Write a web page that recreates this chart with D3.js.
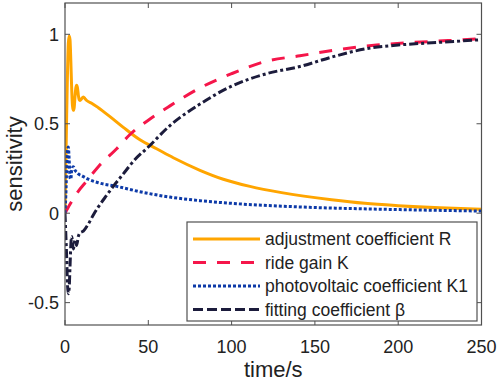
<!DOCTYPE html>
<html><head><meta charset="utf-8">
<script src="https://cdn.jsdelivr.net/npm/d3@7/dist/d3.min.js"></script>
<style>html,body{margin:0;padding:0;background:#fff}svg{display:block}</style>
</head><body><svg id="c" width="498" height="381"></svg>
<script>
const xTicks = [0, 50, 100, 150, 200, 250];
const yTicks = [-0.5, 0, 0.5, 1];
const yTickLabels = ["-0.5", "0", "0.5", "1"];
const seriesNames = ["adjustment coefficient R", "ride gain K", "photovoltaic coefficient K1", "fitting coefficient \u03b2"];

const tR = [0,1,2,2.5,3,3.5,4,4.5,5,5.5,6,6.5,7,7.5,8,8.5,9,10,11,12,13,16,20,27,35,45,55,65,81,95,111,130,160,180,200,225,250];
const vR = [0,0.55,0.95,0.99,0.97,0.85,0.7,0.6,0.575,0.59,0.65,0.70,0.715,0.70,0.66,0.635,0.63,0.64,0.65,0.64,0.63,0.615,0.59,0.54,0.48,0.41,0.36,0.31,0.24,0.19,0.15,0.115,0.075,0.055,0.042,0.03,0.022];

const tK = [0,3,7,13,20,31,39,50,63,81,100,121,141,161,187,210,230,250];
const vK = [0,0.05,0.11,0.18,0.26,0.36,0.44,0.52,0.6,0.7,0.78,0.85,0.88,0.91,0.94,0.955,0.965,0.975];

const tK1 = [0,0.5,1,1.5,2,2.5,3,3.5,4,5,6,7,8,10,14,20,31,45,63,81,100,141,201,250];
const vK1 = [0,0.1,0.25,0.35,0.37,0.3,0.2,0.19,0.24,0.26,0.24,0.23,0.22,0.21,0.19,0.17,0.15,0.12,0.09,0.07,0.055,0.035,0.02,0.012];

const tB = [0,1,1.5,2,2.5,3,3.5,4,5,6,7,8,9,11,14,17,20,25,29,35,42,50,63,81,100,121,141,161,181,200,225,250];
const vB = [0,-0.25,-0.4,-0.45,-0.42,-0.3,-0.18,-0.13,-0.2,-0.15,-0.18,-0.13,-0.11,-0.1,-0.06,-0.01,0.035,0.1,0.15,0.22,0.3,0.37,0.49,0.61,0.71,0.78,0.82,0.875,0.92,0.94,0.955,0.97];

const colors = ["#FFA500", "#F5164A", "#0D3AA8", "#1C1C3C"];
const dashes = [null, "13,11", "3,2", "9,3,3,3"];

const svg = d3.select("#c");
const L = 65, R = 481.5, T = 3, B = 325;
const x = d3.scaleLinear().domain([0, 250]).range([L, R]);
const y = d3.scaleLinear().domain([-0.625, 1.175]).range([B, T]);

const series = [
  {t: tR, v: vR}, {t: tK, v: vK}, {t: tK1, v: vK1}, {t: tB, v: vB}
];

const line = d3.line().x(d => x(d[0])).y(d => y(d[1])).curve(d3.curveMonotoneX);
const clip = svg.append("clipPath").attr("id","cp").append("rect").attr("x",L).attr("y",T).attr("width",R-L).attr("height",B-T);
const g = svg.append("g").attr("clip-path","url(#cp)");
series.forEach((s, i) => {
  const pts = s.t.map((t, j) => [t, s.v[j]]);
  g.append("path").attr("d", line(pts)).attr("fill","none")
    .attr("stroke", colors[i]).attr("stroke-width", 3)
    .attr("stroke-dasharray", dashes[i]).attr("stroke-linejoin","round");
});

// axes box
const axisColor = "#505050";
const ax = svg.append("g");
ax.append("rect").attr("x",L).attr("y",T).attr("width",R-L).attr("height",B-T)
  .attr("fill","none").attr("stroke",axisColor).attr("stroke-width",1.2);
const tl = 5;
xTicks.forEach(v => {
  const px = x(v);
  ax.append("line").attr("x1",px).attr("x2",px).attr("y1",B).attr("y2",B-tl).attr("stroke",axisColor);
  ax.append("line").attr("x1",px).attr("x2",px).attr("y1",T).attr("y2",T+tl).attr("stroke",axisColor);
  ax.append("text").attr("x",px).attr("y",353).attr("text-anchor","middle")
    .attr("font-family","Liberation Sans, Arial, sans-serif").attr("font-size",18).attr("fill","#222").text(v);
});
yTicks.forEach((v, i) => {
  const py = y(v);
  ax.append("line").attr("x1",L).attr("x2",L+tl).attr("y1",py).attr("y2",py).attr("stroke",axisColor);
  ax.append("line").attr("x1",R).attr("x2",R-tl).attr("y1",py).attr("y2",py).attr("stroke",axisColor);
  ax.append("text").attr("x",59).attr("y",py).attr("dy","0.36em").attr("text-anchor","end")
    .attr("font-family","Liberation Sans, Arial, sans-serif").attr("font-size",18).attr("fill","#222").text(yTickLabels[i]);
});
svg.append("text").attr("x",(L+R)/2).attr("y",377).attr("text-anchor","middle")
  .attr("font-family","Liberation Sans, Arial, sans-serif").attr("font-size",22).attr("fill","#222").text("time/s");
svg.append("text").attr("transform","translate(22,164) rotate(-90)").attr("text-anchor","middle")
  .attr("font-family","Liberation Sans, Arial, sans-serif").attr("font-size",22).attr("fill","#222").text("sensitivity");

// legend
const lg = svg.append("g");
lg.append("rect").attr("x",187).attr("y",222).attr("width",290).attr("height",99)
  .attr("fill","#fff").attr("stroke",axisColor).attr("stroke-width",1.2);
const rowY = [239, 262.5, 286, 309.5];
seriesNames.forEach((n, i) => {
  lg.append("line").attr("x1",193).attr("x2",260).attr("y1",rowY[i]).attr("y2",rowY[i])
    .attr("stroke",colors[i]).attr("stroke-width",3).attr("stroke-dasharray", i===3 ? "10,4" : dashes[i]);
  lg.append("text").attr("x",265).attr("y",rowY[i]).attr("dy","0.35em")
    .attr("font-family","Liberation Sans, Arial, sans-serif").attr("font-size",17.5).attr("fill","#222").text(n);
});
</script></body></html>
